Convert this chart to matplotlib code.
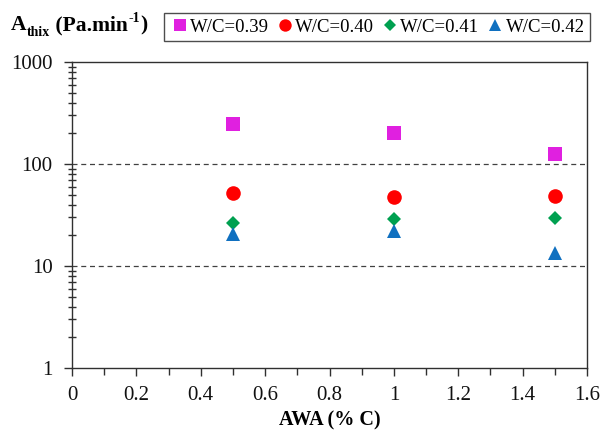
import matplotlib
matplotlib.use("Agg")
import matplotlib.pyplot as plt
from matplotlib.ticker import MultipleLocator, LogLocator, NullFormatter, FixedLocator

plt.rcParams['font.family'] = ['Liberation Serif', 'DejaVu Serif']

awa = [0.5, 1.0, 1.5]
series_labels = ["W/C=0.39", "W/C=0.40", "W/C=0.41", "W/C=0.42"]
wc039 = [247, 201, 125]
wc040 = [52, 47.5, 48.5]
wc041 = [26.4, 28.9, 29.7]
wc042 = [20.6, 22, 13.4]
series = [wc039, wc040, wc041, wc042]
markers = ['s', 'o', 'D', '^']
colors = ['#E020E0', '#FF0000', '#00A050', '#1070C0']
msizes = [10, 10.5, 7.5, 10.5]

fig = plt.figure(figsize=(6.04, 4.44), dpi=100)
ax = fig.add_axes([72/604, 1-368/444, (587-72)/604, (368-62)/444])

handles = []
for vals, m, c, ms, lab in zip(series, markers, colors, msizes, series_labels):
    h, = ax.plot(awa, vals, linestyle='none', marker=m, color=c, markersize=ms,
                 markeredgewidth=0, label=lab)
    handles.append(h)

ax.set_yscale('log')
ax.set_ylim(1, 1000)
ax.set_xlim(0, 1.6)
ax.xaxis.set_minor_locator(MultipleLocator(0.1))
ax.set_xticks([0, 0.2, 0.4, 0.6, 0.8, 1.0, 1.2, 1.4, 1.6])
ax.set_xticklabels(['0', '0.2', '0.4', '0.6', '0.8', '1', '1.2', '1.4', '1.6'])
ax.yaxis.set_major_locator(FixedLocator([1, 10, 100, 1000]))
ax.set_yticklabels(['1', '10', '100', '1000'])
ax.yaxis.set_minor_locator(LogLocator(base=10, subs=range(2, 10)))
ax.yaxis.set_minor_formatter(NullFormatter())

for yv in [10, 100]:
    ax.axhline(yv, color='#404040', linestyle=(0, (4, 3)), linewidth=0.9, zorder=0)

for s in ax.spines.values():
    s.set_color('#303030')
    s.set_linewidth(1.0)

ax.tick_params(axis='both', which='major', labelsize=15, labelcolor='#111111', color='#303030',
               length=6, width=1)
ax.tick_params(axis='x', which='major', direction='out', pad=7)
ax.tick_params(axis='x', which='minor', direction='out', length=5, width=1, colors='#303030')
ax.tick_params(axis='y', which='major', direction='out', length=6, pad=8)
ax.tick_params(axis='y', which='minor', direction='inout', length=6, width=1, colors='#303030')

ax.set_xlabel('AWA (% C)', fontsize=14.5, fontweight='bold', labelpad=4)

# Y-axis title built from pieces (subscript / superscript with plain hyphen)
t1 = fig.text(11/604, 1-35/444, 'A', fontsize=15.5, fontweight='bold', va='bottom', ha='left')
t2 = ax.annotate('thix', xy=(1, 0), xycoords=t1, xytext=(0.3, -3), textcoords='offset points',
                 fontsize=10, fontweight='bold', va='bottom', ha='left', annotation_clip=False)
t3 = ax.annotate(' (Pa.min', xy=(1, 0), xycoords=t2, xytext=(0, 3), textcoords='offset points',
                 fontsize=15.5, fontweight='bold', va='bottom', ha='left', annotation_clip=False)
t4 = ax.annotate('-1', xy=(1, 0), xycoords=t3, xytext=(0.5, 7.5), textcoords='offset points',
                 fontsize=10, fontweight='bold', va='bottom', ha='left', annotation_clip=False)
t5 = ax.annotate(')', xy=(1, 0), xycoords=t4, xytext=(0, -7.5), textcoords='offset points',
                 fontsize=15.5, fontweight='bold', va='bottom', ha='left', annotation_clip=False)

leg = fig.legend(handles=handles, loc='center', bbox_to_anchor=(377/604, 1-27/444), ncol=4,
                 fontsize=13.5, frameon=True, fancybox=False, edgecolor='#202020',
                 handletextpad=0.0, columnspacing=0.3, handlelength=1.1, borderpad=0.3,
                 markerscale=0.85)
leg.get_frame().set_linewidth(1.0)

fig.savefig('out.png', dpi=100)
